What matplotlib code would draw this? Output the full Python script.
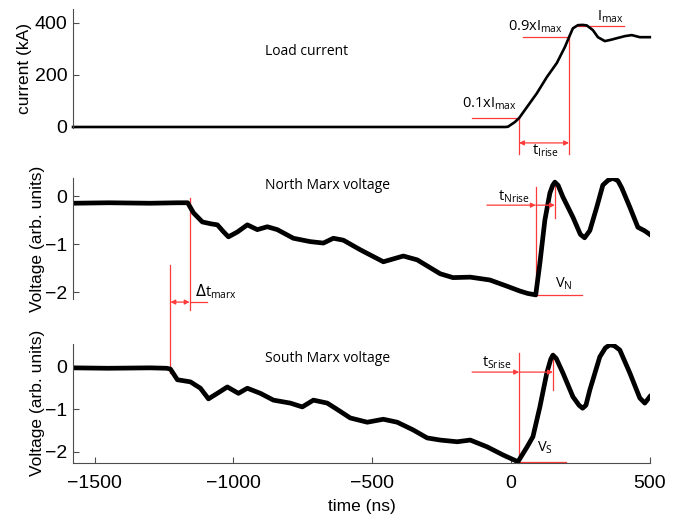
import numpy as np
import matplotlib
matplotlib.use("Agg")
import matplotlib.pyplot as plt

# --- data (time in ns) ---
t_cur = [-1578, -600, -20, -11, 14, 29, 58, 93, 129, 165, 194, 209, 223, 241, 258,
         273, 295, 313, 338, 360, 381, 410, 435, 464, 500]
i_cur = [0, 0, 0, 1, 19, 34, 77, 129, 191, 245, 306, 344, 378, 390, 391,
         389, 371, 344, 329, 334, 340, 348, 352, 344, 344]

t_north = [-1578, -1450, -1300, -1200, -1165, -1144, -1112, -1080, -1058, -1035, -1018,
           -986, -950, -914, -878, -842, -784, -723, -676, -640, -604, -543, -460,
           -388, -338, -255, -209, -147, -76, -14, 32, 60, 89, 104, 122, 140, 150, 158,
           170, 187, 223, 250, 265, 284, 309, 331, 350, 367, 385, 399, 428, 457, 480, 493,
           500]
v_north = [-0.15, -0.14, -0.15, -0.14, -0.14, -0.35, -0.54, -0.58, -0.6, -0.75, -0.85,
           -0.75, -0.6, -0.7, -0.64, -0.7, -0.88, -0.95, -0.98, -0.88, -0.92, -1.12, -1.37,
           -1.25, -1.33, -1.62, -1.7, -1.69, -1.75, -1.88, -1.98, -2.03, -2.06, -1.4, -0.5,
           0.06, 0.22, 0.29, 0.22, -0.02, -0.44, -0.8, -0.87, -0.72, -0.23, 0.23, 0.33,
           0.37, 0.32, 0.17, -0.23, -0.65, -0.72, -0.77, -0.8]

t_south = [-1578, -1450, -1300, -1240, -1227, -1202, -1155, -1119, -1090, -1058, -1022,
           -982, -950, -903, -856, -795, -752, -712, -662, -626, -579, -518, -460,
           -410, -353, -302, -255, -194, -147, -86, -29, 25, 58, 79, 104, 129, 143, 151,
           163, 187, 223, 245, 258, 270, 284, 320, 340, 356, 372, 392, 428, 464, 482, 500]
v_south = [-0.02, -0.03, -0.02, -0.03, -0.05, -0.3, -0.35, -0.5, -0.75, -0.62, -0.47,
           -0.62, -0.5, -0.62, -0.78, -0.85, -0.94, -0.78, -0.85, -1.0, -1.2, -1.3, -1.23,
           -1.3, -1.48, -1.67, -1.72, -1.76, -1.72, -1.88, -2.07, -2.23, -1.88, -1.64,
           -0.94, -0.14, 0.18, 0.28, 0.2, -0.14, -0.7, -0.9, -0.97, -0.9, -0.54, 0.24,
           0.45, 0.52, 0.5, 0.4, -0.14, -0.73, -0.85, -0.7]

x_ticks = [-1500, -1000, -500, 0, 500]

RED = "#ff3a3a"
AX_COL = "0.3"
TICK_FONT = "Liberation Sans"
NOTE_FONT = "Open Sans"

fig = plt.figure(figsize=(6.85, 5.19), dpi=100)
ax1 = fig.add_axes([0.1066, 0.7528, 0.842, 0.2299])
ax2 = fig.add_axes([0.1066, 0.4235, 0.842, 0.2339])
ax3 = fig.add_axes([0.1066, 0.1079, 0.842, 0.2300])


def style(ax, bottom=False):
    ax.patch.set_visible(False)
    for s in ["top", "right"]:
        ax.spines[s].set_visible(False)
    ax.spines["left"].set_color(AX_COL)
    ax.spines["left"].set_linewidth(0.8)
    if bottom:
        ax.spines["bottom"].set_color(AX_COL)
        ax.spines["bottom"].set_linewidth(0.8)
        ax.set_xticks(x_ticks)
    else:
        ax.spines["bottom"].set_visible(False)
        ax.set_xticks([])
    ax.tick_params(direction="in", length=4, width=0.8, color=AX_COL,
                   labelsize=14, pad=4)
    ax.tick_params(axis="x", pad=9)
    for lab in ax.get_xticklabels() + ax.get_yticklabels():
        lab.set_fontfamily(TICK_FONT)
    ax.set_xlim(-1578, 500)


def vline(ax, x, y0, y1):
    ax.plot([x, x], [y0, y1], color=RED, lw=0.9, clip_on=False, zorder=1)


def hline(ax, y, x0, x1):
    ax.plot([x0, x1], [y, y], color=RED, lw=0.9, clip_on=False, zorder=1)


def arrow(ax, x0, x1, y, style_="-|>"):
    ax.annotate("", xy=(x1, y), xytext=(x0, y), annotation_clip=False,
                arrowprops=dict(arrowstyle=style_, color=RED, lw=0.9,
                                mutation_scale=7, shrinkA=0, shrinkB=0))


def note(ax, x, y, s, ha="left", size=10.5):
    ax.text(x, y, s, ha=ha, va="center", fontsize=size, family=NOTE_FONT)


# --- top: load current ---
ax1.plot(t_cur, i_cur, color="black", lw=1.9, solid_joinstyle="round", clip_on=False)
ax1.set_ylim(-5, 452)
ax1.set_yticks([0, 200, 400])
style(ax1)
ax1.set_ylabel("current (kA)", fontsize=12.5, family=TICK_FONT)
ax1.yaxis.set_label_coords(-0.071, 0.5)
note(ax1, -737, 290, "Load current", ha="center", size=10)
hline(ax1, 34, -140, 29)
vline(ax1, 29, 34, -103)
hline(ax1, 344, 43, 209)
vline(ax1, 209, 344, -103)
hline(ax1, 388, 241, 406)
arrow(ax1, 29, 209, -61, "<|-|>")
note(ax1, -176, 88, r"0.1xI$_\mathregular{max}$")
note(ax1, -11, 386, r"0.9xI$_\mathregular{max}$")
note(ax1, 309, 424, r"I$_\mathregular{max}$")
note(ax1, 76, -92, r"t$_\mathregular{Irise}$")

# --- middle: north Marx ---
ax2.plot(t_north, v_north, color="black", lw=3.4, solid_joinstyle="round")
ax2.set_ylim(-2.15, 0.38)
ax2.set_yticks([0, -1, -2])
style(ax2)
ax2.set_ylabel("Voltage (arb. units)", fontsize=12.5, family=TICK_FONT)
ax2.yaxis.set_label_coords(-0.049, 0.5)
note(ax2, -662, 0.23, "North Marx voltage", ha="center", size=10)
vline(ax2, -1158, -0.05, -2.375)
arrow(ax2, -1227, -1158, -2.21, "<|-|>")
hline(ax2, -2.21, -1158, -1094)
note(ax2, -1137, -2.0, r"$\Delta$t$_\mathregular{marx}$")
vline(ax2, 89, 0.19, -2.08)
hline(ax2, -2.06, 89, 255)
vline(ax2, 158, 0.27, -0.46)
arrow(ax2, -87, 89, -0.19)
arrow(ax2, 89, 158, -0.19)
note(ax2, -47, -0.02, r"t$_\mathregular{Nrise}$")
note(ax2, 158, -1.83, r"V$_\mathregular{N}$")

# --- bottom: south Marx ---
ax3.plot(t_south, v_south, color="black", lw=3.4, solid_joinstyle="round")
ax3.set_ylim(-2.26, 0.55)
ax3.set_yticks([0, -1, -2])
style(ax3, bottom=True)
ax3.set_ylabel("Voltage (arb. units)", fontsize=12.5, family=TICK_FONT)
ax3.yaxis.set_label_coords(-0.049, 0.5)
ax3.set_xlabel("time (ns)", fontsize=12.5, family=TICK_FONT, labelpad=5)
note(ax3, -662, 0.21, "South Marx voltage", ha="center", size=10)
vline(ax3, -1227, 2.4, -0.14)
vline(ax3, 29, 0.33, -2.26)
hline(ax3, -2.23, 29, 198)
vline(ax3, 151, 0.33, -0.54)
arrow(ax3, -140, 29, -0.12)
arrow(ax3, 29, 151, -0.12)
note(ax3, -104, 0.1, r"t$_\mathregular{Srise}$")
note(ax3, 94, -1.9, r"V$_\mathregular{S}$")

fig.savefig("out.png", dpi=100, facecolor="white")
